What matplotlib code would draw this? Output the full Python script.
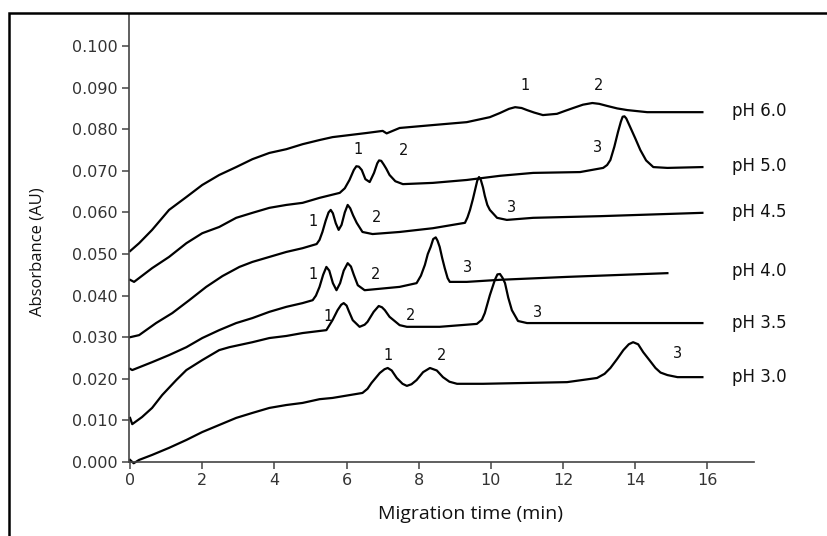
import matplotlib
matplotlib.use("Agg")
import matplotlib.pyplot as plt
from matplotlib.patches import Rectangle
import numpy as np

# electropherogram traces: migration time (min) and absorbance (mAU)
ph_labels = ["pH 6.0", "pH 5.0", "pH 4.5", "pH 4.0", "pH 3.5", "pH 3.0"]

t_ph60 = [0, 0.25, 0.61, 1.08, 1.56, 2.0, 2.47, 2.94, 3.39, 3.86, 4.33, 4.78, 5.25, 5.61,
          6.56, 7.0, 7.11, 7.47, 8.39, 9.33, 9.97, 10.25, 10.5, 10.67, 10.85, 11.0, 11.2,
          11.44, 11.83, 12.05, 12.28, 12.55, 12.81, 13.0, 13.22, 13.5, 13.78, 14.33, 15.86]
a_ph60 = [50.7, 52.6, 55.8, 60.6, 63.7, 66.6, 69.0, 70.9, 72.8, 74.3, 75.2, 76.4, 77.4, 78.1,
          79.1, 79.6, 79.0, 80.3, 81.0, 81.7, 82.9, 83.9, 84.9, 85.3, 85.1, 84.6, 84.0,
          83.4, 83.7, 84.4, 85.1, 85.9, 86.3, 86.1, 85.6, 85.0, 84.6, 84.1, 84.1]

t_ph50 = [0, 0.11, 0.61, 1.08, 1.56, 2.0, 2.47, 2.94, 3.39, 3.86, 4.33, 4.78, 5.25, 5.81,
          5.95, 6.08, 6.2, 6.27, 6.34, 6.42, 6.52, 6.64, 6.76, 6.85, 6.9, 6.96, 7.03, 7.1, 7.19,
          7.35, 7.56, 8.39, 9.33, 10.25, 11.17, 12.47, 13.11, 13.22, 13.31, 13.42, 13.52, 13.6,
          13.65, 13.7, 13.75, 13.86, 14.0, 14.14, 14.3, 14.5, 14.89, 15.86]
a_ph50 = [43.8, 43.3, 46.6, 49.3, 52.6, 55.0, 56.5, 58.7, 59.9, 61.1, 61.8, 62.3, 63.5, 64.7,
          65.8, 67.8, 70.2, 71.1, 71.0, 70.2, 68.0, 67.3, 69.5, 71.8, 72.5, 72.4, 71.5, 70.5, 69.0,
          67.5, 66.8, 67.1, 67.8, 68.8, 69.5, 69.7, 70.7, 71.4, 72.6, 75.8, 79.3, 81.8,
          83.0, 83.1, 82.6, 80.5, 77.8, 75.0, 72.5, 70.9, 70.7, 70.9]

t_ph45 = [0, 0.25, 0.72, 1.17, 1.64, 2.11, 2.56, 3.03, 3.39, 3.86, 4.33, 4.78, 5.17, 5.25,
          5.33, 5.42, 5.5, 5.56, 5.62, 5.7, 5.78, 5.86, 5.95, 6.03, 6.1, 6.18, 6.28, 6.44,
          6.72, 7.47, 8.39, 9.28, 9.35, 9.42, 9.5, 9.56, 9.62, 9.67, 9.72, 9.78, 9.83, 9.9,
          9.97, 10.17, 10.44, 11.17, 13.03, 15.86]
a_ph45 = [30.0, 30.5, 33.4, 35.8, 38.9, 42.1, 44.7, 46.9, 48.1, 49.3, 50.5, 51.4, 52.4, 53.4,
          55.3, 58.0, 60.0, 60.6, 59.8, 57.4, 55.8, 57.0, 60.0, 61.8, 61.0, 59.3, 57.5, 55.3,
          54.8, 55.3, 56.2, 57.5, 58.8, 60.6, 63.2, 65.4, 67.6, 68.5, 67.8, 66.0, 64.0, 61.8,
          60.6, 58.7, 58.2, 58.7, 59.1, 59.9]

t_ph40 = [0, 0.06, 0.61, 1.08, 1.56, 2.0, 2.47, 2.94, 3.39, 3.86, 4.33, 4.78, 5.06, 5.15,
          5.25, 5.35, 5.44, 5.52, 5.62, 5.72, 5.82, 5.92, 6.03, 6.12, 6.2, 6.31, 6.5, 7.47,
          7.94, 8.06, 8.17, 8.25, 8.33, 8.4, 8.47, 8.52, 8.58, 8.65, 8.72, 8.8, 8.86, 9.33,
          10.25, 12.11, 14.89]
a_ph40 = [22.4, 22.1, 24.0, 25.7, 27.6, 29.8, 31.7, 33.4, 34.6, 36.1, 37.3, 38.2, 38.9, 40.0,
          42.1, 45.0, 46.9, 46.0, 43.0, 41.3, 43.0, 46.0, 47.8, 47.0, 45.0, 42.5, 41.3, 42.1,
          43.0, 44.8, 47.4, 50.0, 51.7, 53.6, 54.0, 53.2, 51.7, 49.0, 46.6, 44.2, 43.3, 43.3,
          43.8, 44.5, 45.4]

t_ph35 = [0, 0.06, 0.33, 0.61, 0.89, 1.28, 1.56, 2.0, 2.47, 2.75, 3.39, 3.86, 4.33, 4.78,
          5.44, 5.61, 5.75, 5.85, 5.92, 6.0, 6.06, 6.17, 6.36, 6.5, 6.58, 6.75, 6.89, 6.98,
          7.06, 7.19, 7.47, 7.67, 8.58, 9.61, 9.75, 9.83, 9.97, 10.11, 10.18, 10.25, 10.32,
          10.39, 10.48, 10.58, 10.75, 11.0, 15.86]
a_ph35 = [10.6, 9.1, 10.8, 13.0, 16.1, 19.7, 22.1, 24.5, 26.9, 27.6, 28.8, 29.8, 30.3, 31.0,
          31.7, 34.1, 36.5, 37.8, 38.2, 37.6, 36.3, 34.1, 32.5, 33.0, 33.7, 36.1, 37.5, 37.2,
          36.5, 34.9, 32.9, 32.5, 32.5, 33.2, 34.2, 35.8, 40.1, 43.8, 45.1, 45.2, 44.3,
          43.0, 39.5, 36.5, 33.9, 33.4, 33.4]

t_ph30 = [0, 0.1, 0.25, 0.61, 1.08, 1.56, 2.0, 2.47, 2.94, 3.39, 3.86, 4.33, 4.78, 5.25,
          5.61, 6.44, 6.58, 6.69, 6.92, 7.05, 7.14, 7.25, 7.39, 7.55, 7.67, 7.8, 7.94, 8.12,
          8.31, 8.5, 8.67, 8.85, 9.06, 9.78, 12.11, 12.94, 13.15, 13.31, 13.5, 13.67, 13.82,
          13.94, 14.08, 14.22, 14.4, 14.56, 14.7, 14.89, 15.17, 15.86]
a_ph30 = [0.5, -0.3, 0.5, 1.7, 3.4, 5.3, 7.2, 8.9, 10.6, 11.8, 13.0, 13.7, 14.2, 15.1,
          15.4, 16.6, 17.6, 19.0, 21.4, 22.3, 22.6, 22.0, 20.2, 18.8, 18.3, 18.7, 19.7, 21.6,
          22.6, 22.0, 20.4, 19.3, 18.8, 18.8, 19.2, 20.2, 21.2, 22.6, 24.8, 26.9, 28.3,
          28.8, 28.3, 26.4, 24.4, 22.6, 21.5, 20.9, 20.4, 20.4]

times = [t_ph60, t_ph50, t_ph45, t_ph40, t_ph35, t_ph30]
absorb = [a_ph60, a_ph50, a_ph45, a_ph40, a_ph35, a_ph30]

# where each pH label sits (time, mAU)
ph_label_t = [16.69, 16.69, 16.69, 16.69, 16.69, 16.69]
ph_label_a = [84.4, 71.2, 60.1, 45.9, 33.4, 20.4]

# peak numbers: (text, time, mAU)
peak_text = ["1", "2", "1", "2", "3", "1", "2", "3", "1", "2", "3", "1", "2", "3", "1", "2", "3"]
peak_t = [10.95, 12.97, 6.31, 7.58, 12.94, 5.06, 6.83, 10.56, 5.06, 6.8, 9.36,
          5.5, 7.78, 11.3, 7.14, 8.64, 15.17]
peak_a = [90.4, 90.4, 75.2, 75.0, 75.7, 57.9, 58.7, 61.3, 45.0, 45.0, 46.8,
          34.9, 35.1, 36.0, 25.7, 25.7, 26.2]

fig = plt.figure(figsize=(8.28, 5.36), dpi=100)
ax = fig.add_axes([129 / 828, 1 - 462 / 536, 625 / 828, 448 / 536])

for t, a in zip(times, absorb):
    ax.plot(t, np.array(a) / 1000, color="black", lw=1.6, clip_on=False,
            solid_joinstyle="round")

for lbl, t, a in zip(ph_labels, ph_label_t, ph_label_a):
    ax.text(t, a / 1000, lbl, ha="left", va="center", fontsize=12, color="#111111")

for s, t, a in zip(peak_text, peak_t, peak_a):
    ax.text(t, a / 1000, s, ha="center", va="center", fontsize=10.5, color="#111111")

ax.set_xlim(-0.03, 17.29)
ax.set_ylim(0, 0.1077)
ax.set_xticks(np.arange(0, 17, 2))
ax.set_yticks(np.arange(0, 0.101, 0.01))
ax.set_yticklabels([f"{v:.3f}" for v in np.arange(0, 0.101, 0.01)])
ax.spines["top"].set_visible(False)
ax.spines["right"].set_visible(False)
for sp in ("left", "bottom"):
    ax.spines[sp].set_color("#444444")
    ax.spines[sp].set_linewidth(1.2)
ax.tick_params(direction="out", length=5, width=1.1, color="#444444",
               labelsize=11.5, labelcolor="#333333", pad=3)
ax.set_xlabel("Migration time (min)", fontsize=14, family="Open Sans", color="#111111")
ax.set_ylabel("Absorbance (AU)", fontsize=12, family="Open Sans", color="#111111")
ax.xaxis.set_label_coords(0.546, -0.116)
ax.yaxis.set_label_coords(-0.147, 0.469)
ax.xaxis.label.set_va("center")
ax.yaxis.label.set_va("center")

# outer frame around the figure
fig.patches.append(Rectangle((9 / 828, -0.1), 1.2, 0.1 + 1 - 13 / 536,
                             transform=fig.transFigure, fill=False,
                             edgecolor="black", lw=1.8))

fig.savefig("out.png", dpi=100)
